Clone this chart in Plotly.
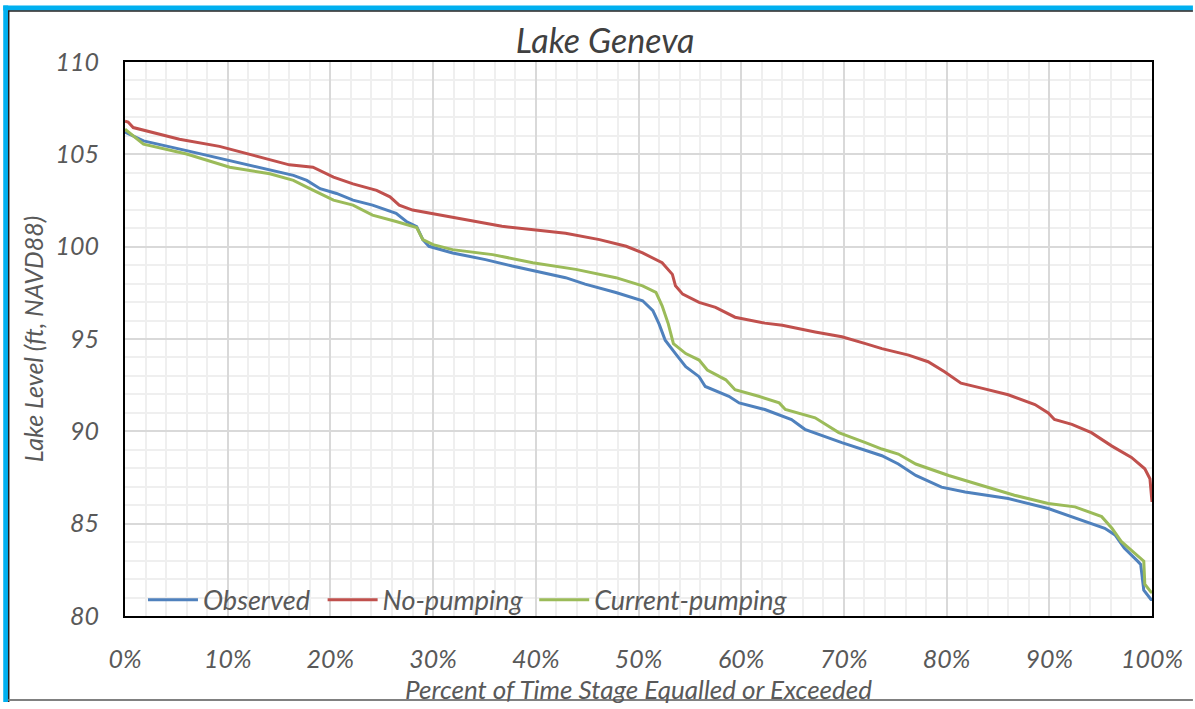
import plotly.graph_objects as go

# ---- data ----
pct_nopump = [0, 0.3, 0.8, 2.8, 5.3, 9.2, 13.1, 16, 18.3, 20.3, 22.2, 24.5, 25.8, 26.7, 28, 30.6,
              35.1, 36.7, 40, 42.9, 46.2, 48.8, 50.4, 52.3, 53.3, 53.6, 54.3, 55.9, 57.5, 59.4,
              62.3, 64, 67.2, 69.8, 72.1, 73.7, 76.3, 78.2, 79.8, 81.4, 83.4, 86, 88.6, 89.9,
              90.5, 92.2, 94.1, 96.1, 98, 99.3, 99.8, 100]
lvl_nopump = [106.8, 106.75, 106.45, 106.18, 105.82, 105.43, 104.84, 104.43, 104.3, 103.77, 103.4,
              103.05, 102.7, 102.25, 101.98, 101.71, 101.27, 101.1, 100.9, 100.73, 100.38, 100.02,
              99.66, 99.13, 98.5, 97.88, 97.43, 96.98, 96.71, 96.18, 95.86, 95.74, 95.38, 95.12,
              94.75, 94.48, 94.13, 93.77, 93.23, 92.61, 92.34, 91.98, 91.45, 91.0, 90.64, 90.38,
              89.93, 89.2, 88.59, 87.97, 87.43, 86.18]

pct_obs = [0, 1.8, 6, 10.2, 14.1, 16.4, 17.7, 19, 20.6, 22.2, 24.1, 26.4, 27.4, 28.4, 29, 29.6,
           31.9, 35.1, 37.7, 40, 42.9, 44.8, 47.8, 50.4, 51.4, 52, 52.6, 53.6, 54.6, 55.9, 56.5,
           58.8, 59.8, 62.3, 64.9, 66.2, 69.8, 73.7, 75.3, 77, 79.5, 81.8, 86, 89.9, 92.2, 95.4,
           96.4, 97.3, 98.6, 98.9, 99.2, 99.9, 100]
lvl_obs = [106.2, 105.73, 105.2, 104.66, 104.13, 103.86, 103.59, 103.14, 102.88, 102.52, 102.25,
           101.8, 101.36, 101.09, 100.38, 100.02, 99.66, 99.3, 98.95, 98.68, 98.32, 97.97, 97.52,
           97.07, 96.54, 95.82, 94.93, 94.21, 93.5, 92.96, 92.43, 91.9, 91.54, 91.18, 90.64, 90.11,
           89.39, 88.68, 88.23, 87.61, 86.98, 86.71, 86.36, 85.82, 85.38, 84.75, 84.39, 83.68,
           82.97, 82.79, 81.4, 80.9, 80.9]

pct_cur = [0, 1.8, 6, 10.2, 14.1, 16.4, 18, 20.3, 22.2, 24.1, 26.4, 28.4, 29, 30, 31.9, 35.8,
           39.7, 43.9, 47.8, 50.4, 51.7, 52.3, 52.9, 53.4, 54.6, 55.9, 56.7, 58.5, 59.4, 61.7,
           63.7, 64.3, 67.2, 69.5, 72.1, 73.7, 75.3, 77, 80.2, 83.4, 86.6, 89.9, 92.5, 95.1,
           96.1, 97, 98.3, 99.2, 99.3, 99.9, 100]
lvl_cur = [106.36, 105.55, 105.02, 104.3, 103.95, 103.59, 103.14, 102.52, 102.25, 101.71, 101.36,
           101.04, 100.38, 100.11, 99.84, 99.57, 99.13, 98.77, 98.32, 97.88, 97.52, 96.8, 95.82,
           94.75, 94.21, 93.86, 93.32, 92.79, 92.25, 91.9, 91.54, 91.18, 90.73, 89.93, 89.39,
           89.04, 88.77, 88.23, 87.61, 87.07, 86.54, 86.09, 85.91, 85.38, 84.75, 84.04, 83.42,
           82.97, 81.72, 81.3, 81.3]

series_names = ["Observed", "No-pumping", "Current-pumping"]
series_colors = ["#4F81BD", "#C0504D", "#9BBB59"]

x_ticks = [0, 10, 20, 30, 40, 50, 60, 70, 80, 90, 100]
y_ticks = [80, 85, 90, 95, 100, 105, 110]

FONT = "Lato"
GREY = "#595959"

# pixel geometry helpers
W, H = 1195, 709
L, R, T, B = 125, 41, 62, 87
pw, ph = W - L - R, H - T - B
def px(xp):
    return (xp - L) / pw
def py(yp):
    return (H - B - yp) / ph

legend_ids = ["legend", "legend2", "legend3"]
legend_left_px = [143, 323, 535]

fig = go.Figure()
for name, xs, ys, col, lid in zip(series_names,
                                  [pct_obs, pct_nopump, pct_cur],
                                  [lvl_obs, lvl_nopump, lvl_cur],
                                  series_colors, legend_ids):
    fig.add_trace(go.Scatter(x=xs, y=ys, mode="lines", name=name, legend=lid,
                             line=dict(color=col, width=3)))

shapes = [
    dict(type="rect", xref="paper", yref="paper", x0=px(3), x1=px(8), y0=py(H), y1=py(5),
         fillcolor="#00B0F0", line=dict(width=0), layer="above"),
    dict(type="rect", xref="paper", yref="paper", x0=px(3), x1=px(W), y0=py(10), y1=py(5),
         fillcolor="#00B0F0", line=dict(width=0), layer="above"),
    dict(type="line", xref="paper", yref="paper", x0=px(8.5), x1=px(8.5), y0=py(H), y1=py(10),
         line=dict(color="#222222", width=1.5), layer="above"),
    dict(type="line", xref="paper", yref="paper", x0=px(8), x1=px(W), y0=py(10.5), y1=py(10.5),
         line=dict(color="#222222", width=1.5), layer="above"),
    dict(type="line", xref="paper", yref="paper", x0=px(8), x1=px(W), y0=py(707), y1=py(707),
         line=dict(color="#808080", width=2), layer="above"),
    # white band behind the legend entries (Excel legend box)
    dict(type="rect", xref="paper", yref="paper", x0=px(140), x1=px(800), y0=py(617), y1=py(589),
         fillcolor="white", line=dict(width=0), layer="between"),
]

legend_common = dict(orientation="h", xanchor="left", yanchor="middle", y=py(606),
                     bgcolor="rgba(255,255,255,0)", borderwidth=0,
                     font=dict(family=FONT, size=27, color=GREY, style="italic"),
                     itemwidth=50)

fig.update_layout(
    width=W, height=H,
    margin=dict(l=L, r=R, t=T, b=B),
    paper_bgcolor="white", plot_bgcolor="white",
    font=dict(family=FONT, color=GREY),
    title=dict(text="Lake Geneva", x=605 / W, xref="container", xanchor="center",
               y=1 - 41 / H, yref="container", yanchor="middle",
               font=dict(family=FONT, size=34, color="#404040", style="italic")),
    showlegend=True,
    legend=dict(x=px(legend_left_px[0]), **legend_common),
    legend2=dict(x=px(legend_left_px[1]), **legend_common),
    legend3=dict(x=px(legend_left_px[2]), **legend_common),
    shapes=shapes,
)

fig.update_xaxes(
    range=[0, 100], tickmode="array", tickvals=x_ticks,
    ticktext=[f"{v}%" for v in x_ticks],
    showgrid=True, gridcolor="#D9D9D9", gridwidth=1.5,
    minor=dict(dtick=2, showgrid=True, gridcolor="#EFEFEF", gridwidth=1.5),
    showline=True, linecolor="black", linewidth=2, mirror=True,
    ticks="outside", ticklen=20, tickcolor="rgba(0,0,0,0)", zeroline=False,
    tickfont=dict(family=FONT, size=25, color=GREY, style="italic"),
    title=dict(text="Percent of Time Stage Equalled or Exceeded", standoff=6,
               font=dict(family=FONT, size=26, color=GREY, style="italic")),
)
fig.update_yaxes(
    range=[80, 110], tickmode="array", tickvals=y_ticks,
    showgrid=True, gridcolor="#D9D9D9", gridwidth=1.5,
    minor=dict(dtick=1, showgrid=True, gridcolor="#EFEFEF", gridwidth=1.5),
    showline=True, linecolor="black", linewidth=2, mirror=True,
    ticks="outside", ticklen=19, tickcolor="rgba(0,0,0,0)", zeroline=False,
    tickfont=dict(family=FONT, size=25, color=GREY, style="italic"),
    title=dict(text="Lake Level (ft, NAVD88)", standoff=5,
               font=dict(family=FONT, size=25, color=GREY, style="italic")),
)

fig.write_html("out.html")
